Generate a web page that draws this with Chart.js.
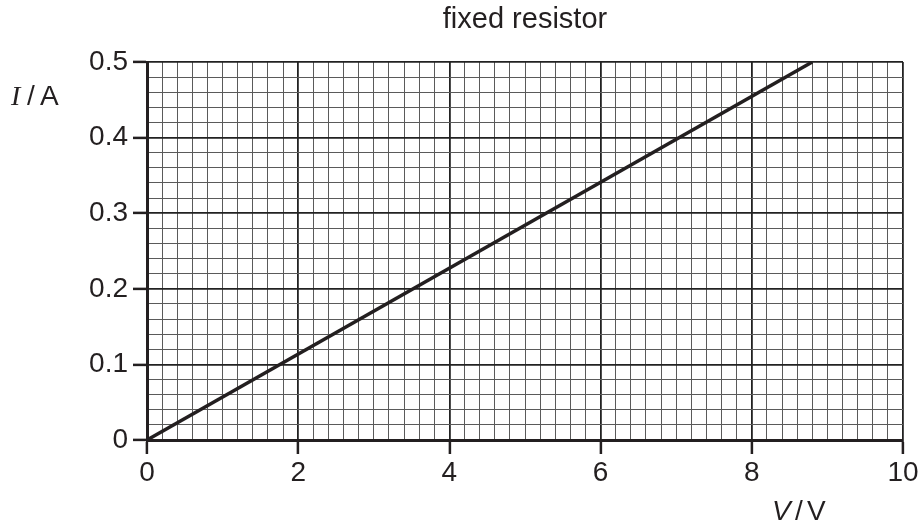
<!DOCTYPE html>
<html>
<head>
<meta charset="utf-8">
<script src="https://cdn.jsdelivr.net/npm/chart.js@4"></script>
<style>
  html, body { margin: 0; padding: 0; background: #fff; }
  #wrap { width: 922px; height: 529px; position: relative; }
</style>
</head>
<body>
<div id="wrap"><canvas id="chart"></canvas></div>
<script>
// data
const voltage = [0, 8.8];
const current = [0, 0.5];
const xTickLabels = [0, 2, 4, 6, 8, 10];
const yTickLabels = [0, 0.1, 0.2, 0.3, 0.4, 0.5];

const ink = '#231f20';
const fontSans = '"Liberation Sans", Arial, sans-serif';

const isMajorX = (v) => xTickLabels.some(t => Math.abs(t - v) < 1e-6);
const isMajorY = (v) => yTickLabels.some(t => Math.abs(t - v) < 1e-6);

// axis quantity labels (I / A and V / V)
const axisLabels = {
  id: 'axisLabels',
  afterDraw(chart) {
    const ctx = chart.ctx;
    ctx.save();
    ctx.fillStyle = ink;
    ctx.textBaseline = 'alphabetic';
    ctx.textAlign = 'left';
    // I / A
    ctx.font = 'italic 28px "Liberation Serif", serif';
    ctx.fillText('I', 11, 105);
    ctx.font = '28px ' + fontSans;
    ctx.fillText('/', 27, 105);
    ctx.fillText('A', 40, 105);
    // V / V
    ctx.font = 'italic 28px ' + fontSans;
    ctx.fillText('V', 772, 520);
    ctx.font = '28px ' + fontSans;
    ctx.fillText('/', 795, 520);
    ctx.fillText('V', 807, 520);
    ctx.restore();
  }
};

new Chart(document.getElementById('chart'), {
  type: 'line',
  data: {
    datasets: [{
      label: 'fixed resistor',
      data: voltage.map((v, i) => ({ x: v, y: current[i] })),
      borderColor: ink,
      borderWidth: 3.5,
      pointRadius: 0,
      fill: false,
      tension: 0
    }]
  },
  options: {
    responsive: true,
    maintainAspectRatio: false,
    animation: false,
    layout: { padding: { left: 0, right: 19, top: 0, bottom: 0 } },
    plugins: {
      legend: { display: false },
      tooltip: { enabled: false },
      title: {
        display: true,
        text: 'fixed resistor',
        fullSize: false,
        color: ink,
        font: { family: fontSans, size: 29, weight: 'normal' },
        padding: { top: 3, bottom: 24.2 }
      }
    },
    scales: {
      x: {
        type: 'linear',
        min: 0,
        max: 10,
        afterFit: (scale) => { scale.height = 89; },
        border: { display: true, color: ink, width: 3 },
        grid: {
          color: (c) => isMajorX(c.tick.value) ? '#222' : '#5a5a5a',
          lineWidth: (c) => isMajorX(c.tick.value) ? 1.8 : 1,
          tickColor: (c) => isMajorX(c.tick.value) ? ink : 'rgba(0,0,0,0)',
          tickWidth: 2.5,
          tickLength: 14
        },
        ticks: {
          stepSize: 0.2,
          autoSkip: false,
          maxRotation: 0,
          padding: 2,
          color: ink,
          font: { family: fontSans, size: 28 },
          callback: (v) => isMajorX(v) ? String(Math.round(v)) : ''
        }
      },
      y: {
        type: 'linear',
        min: 0,
        max: 0.5,
        afterFit: (scale) => { scale.width = 147; },
        border: { display: true, color: ink, width: 3 },
        grid: {
          color: (c) => isMajorY(c.tick.value) ? '#222' : '#5a5a5a',
          lineWidth: (c) => isMajorY(c.tick.value) ? 1.8 : 1,
          tickColor: (c) => isMajorY(c.tick.value) ? ink : 'rgba(0,0,0,0)',
          tickWidth: 2.5,
          tickLength: 14
        },
        ticks: {
          stepSize: 0.02,
          autoSkip: false,
          padding: 5,
          color: ink,
          font: { family: fontSans, size: 28 },
          callback: (v) => {
            if (!isMajorY(v)) return '';
            return Math.abs(v) < 1e-6 ? '0' : v.toFixed(1);
          }
        }
      }
    }
  },
  plugins: [axisLabels]
});
</script>
</body>
</html>
